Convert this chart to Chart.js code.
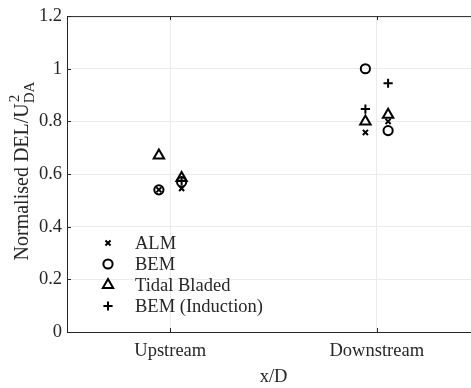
<!DOCTYPE html>
<html>
<head>
<meta charset="utf-8">
<script src="https://cdn.jsdelivr.net/npm/chart.js@4"></script>
<style>
  html, body { margin: 0; padding: 0; background: #fff; overflow: hidden; }
  #wrap { width: 490px; height: 388px; position: relative; }
</style>
</head>
<body>
<div id="wrap"><canvas id="c" width="490" height="388"></canvas></div>
<script>
// Positions along x/D
const categories = ['Upstream', 'Downstream'];

// Two readings per position for each model: [first, second]
const almUpstream = [0.54, 0.545];
const almDownstream = [0.758, 0.80];
const bemUpstream = [0.54, 0.57];
const bemDownstream = [1.0, 0.765];
const bladedUpstream = [0.67, 0.585];
const bladedDownstream = [0.80, 0.825];
const inductionUpstream = [null, 0.575];
const inductionDownstream = [0.847, 0.945];

const yTicks = [0, 0.2, 0.4, 0.6, 0.8, 1, 1.2];
const yTickLabels = ['0', '0.2', '0.4', '0.6', '0.8', '1', '1.2'];

const seriesNames = ['ALM', 'BEM', 'Tidal Bladed', 'BEM (Induction)'];
const seriesValues = [
  [almUpstream, almDownstream],
  [bemUpstream, bemDownstream],
  [bladedUpstream, bladedDownstream],
  [inductionUpstream, inductionDownstream]
];
const markerStyles = ['crossRot', 'circle', 'triangle', 'cross'];
const markerRadius = [3.6, 4.6, 6, 4.6];

const SERIF = '"Liberation Serif", "Times New Roman", serif';
const INK = '#262626';
const PAIR_SHIFT = 0.055;

function toPoints(perCategory) {
  const pts = [];
  perCategory.forEach((pair, ci) => {
    pair.forEach((v, k) => {
      if (v === null) return;
      pts.push({ x: ci + 1 + (k === 0 ? -PAIR_SHIFT : PAIR_SHIFT), y: v });
    });
  });
  return pts;
}

const datasets = seriesNames.map((name, i) => ({
  label: name,
  data: toPoints(seriesValues[i]),
  pointStyle: markerStyles[i],
  pointRadius: markerRadius[i],
  pointHoverRadius: markerRadius[i],
  pointBorderWidth: 2,
  borderColor: '#000',
  backgroundColor: 'rgba(0,0,0,0)',
  showLine: false
}));

// Inward tick marks, top border and in-plot legend
const framePlugin = {
  id: 'frame',
  afterDraw(chart) {
    const ctx = chart.ctx;
    const a = chart.chartArea;
    const xs = chart.scales.x, ys = chart.scales.y;
    ctx.save();
    ctx.strokeStyle = INK;
    ctx.lineWidth = 1;
    ctx.beginPath();
    ctx.moveTo(a.left, a.top + 0.5);
    ctx.lineTo(a.right, a.top + 0.5);
    ctx.moveTo(a.left + 0.5, a.top);
    ctx.lineTo(a.left + 0.5, a.bottom);
    ctx.moveTo(a.left, a.bottom + 0.5);
    ctx.lineTo(a.right, a.bottom + 0.5);
    yTicks.forEach(v => {
      const py = Math.round(ys.getPixelForValue(v)) + 0.5;
      ctx.moveTo(a.left, py);
      ctx.lineTo(a.left + 4, py);
    });
    categories.forEach((c, i) => {
      const px = Math.round(xs.getPixelForValue(i + 1)) + 0.5;
      ctx.moveTo(px, a.bottom);
      ctx.lineTo(px, a.bottom - 4);
      ctx.moveTo(px, a.top);
      ctx.lineTo(px, a.top + 4);
    });
    ctx.stroke();

    // legend
    const lx = 108, ly0 = 243, step = 21;
    ctx.font = '18.5px ' + SERIF;
    ctx.textBaseline = 'middle';
    chart.data.datasets.forEach((ds, i) => {
      const y = ly0 + i * step;
      ctx.strokeStyle = '#000';
      ctx.fillStyle = 'rgba(0,0,0,0)';
      ctx.lineWidth = 2;
      Chart.helpers.drawPoint(ctx, {
        pointStyle: ds.pointStyle,
        radius: ds.pointRadius,
        borderWidth: 2
      }, lx, y);
      ctx.fillStyle = INK;
      ctx.fillText(ds.label, 135, y + 1);
    });

    // y-axis title with superscript and subscript
    const base = 'Normalised DEL/U';
    ctx.translate(28, 171);
    ctx.rotate(-Math.PI / 2);
    ctx.font = '20px ' + SERIF;
    const wBase = ctx.measureText(base).width;
    ctx.font = '15px ' + SERIF;
    const wSup = ctx.measureText('2').width;
    const wSub = ctx.measureText('DA').width;
    const total = wBase + Math.max(wSup, wSub);
    const x0 = -total / 2;
    ctx.textBaseline = 'alphabetic';
    ctx.textAlign = 'left';
    ctx.fillStyle = INK;
    ctx.font = '20px ' + SERIF;
    ctx.fillText(base, x0, 0);
    ctx.font = '15px ' + SERIF;
    ctx.fillText('2', x0 + wBase + 1, -9);
    ctx.fillText('DA', x0 + wBase, 6);
    ctx.restore();
  }
};

new Chart(document.getElementById('c'), {
  type: 'scatter',
  data: { datasets },
  options: {
    responsive: false,
    animation: false,
    events: [],
    layout: { padding: { left: 0, right: 10, top: 15, bottom: 0 } },
    plugins: {
      legend: { display: false },
      tooltip: { enabled: false }
    },
    scales: {
      x: {
        type: 'linear',
        min: 0.5,
        max: 2.5,
        afterBuildTicks(scale) {
          scale.ticks = categories.map((c, i) => ({ value: i + 1 }));
        },
        afterFit(scale) { scale.height = 56; },
        grid: { color: '#ebebeb', lineWidth: 1, drawTicks: false },
        border: { display: false },
        ticks: {
          color: INK,
          font: { family: SERIF, size: 18.5 },
          padding: 8,
          callback: (v) => categories[Math.round(v) - 1]
        },
        title: {
          display: true,
          text: 'x/D',
          color: INK,
          font: { family: SERIF, size: 18.5 },
          padding: { top: 0, bottom: 0 }
        }
      },
      y: {
        min: 0,
        max: 1.2,
        afterBuildTicks(scale) {
          scale.ticks = yTicks.map(v => ({ value: v }));
        },
        afterFit(scale) { scale.width = 67; },
        grid: { color: '#ebebeb', lineWidth: 1, drawTicks: false },
        border: { display: false },
        ticks: {
          color: INK,
          font: { family: SERIF, size: 18.5 },
          padding: 5,
          callback: (v) => yTickLabels[yTicks.indexOf(v)]
        }
      }
    }
  },
  plugins: [framePlugin]
});
</script>
</body>
</html>
